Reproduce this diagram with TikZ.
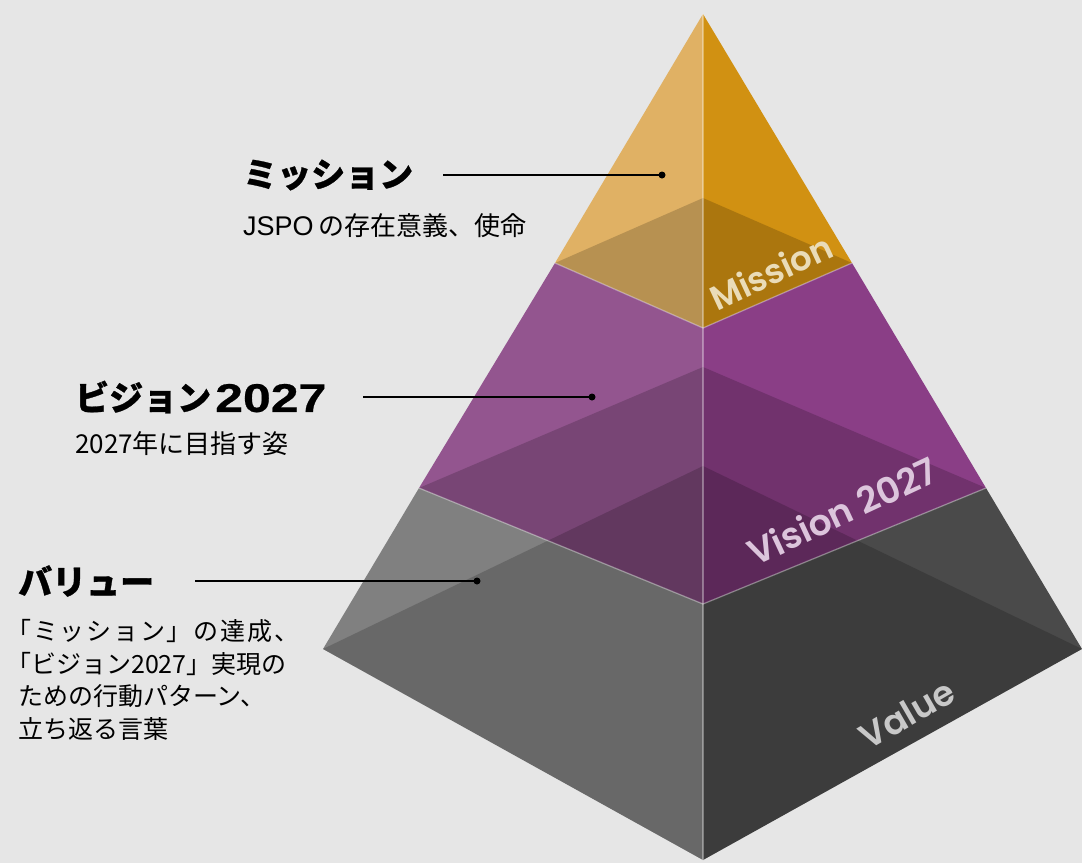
\documentclass[tikz,border=0pt]{standalone}
\usepackage{graphicx}
\usepackage{fontspec}
\newfontfamily\cjk{Noto Sans CJK JP}[BoldFeatures={FakeBold=0.8}]
\newfontfamily\lib{Liberation Sans}[BoldFeatures={FakeBold=0.5}]
\newfontfamily\pop{Poppins}[UprightFont=* SemiBold]
\definecolor{bgc}{HTML}{E6E6E6}
\definecolor{mleft}{HTML}{E0B164}
\definecolor{mright}{HTML}{D19112}
\definecolor{vleft}{HTML}{93558F}
\definecolor{vright}{HTML}{8A3E86}
\definecolor{bleft}{HTML}{808080}
\definecolor{bright}{HTML}{4A4A4A}
\definecolor{mtag}{HTML}{EADCB8}
\definecolor{vtag}{HTML}{DCC5DC}
\definecolor{btag}{HTML}{C8C8C8}
\begin{document}
\begin{tikzpicture}[x=1pt,y=-1pt,
  dark/.style={fill=black,fill opacity=0.18},
  edgeline/.style={draw=white,draw opacity=0.35,line width=1.3pt},
  conn/.style={draw=black,line width=1.4pt},
  dotnode/.style={circle,fill=black,inner sep=0pt,minimum size=7pt},
  head/.style={anchor=west,inner sep=0pt,font=\cjk\bfseries\fontsize{34}{40}\selectfont},
  body/.style={anchor=west,inner sep=0pt,font=\cjk\fontsize{26}{33}\selectfont},
  bodyb/.style={anchor=west,inner sep=0pt,font=\cjk\fontsize{25}{33}\selectfont},
  tag/.style={font=\pop,inner sep=0pt}
]
\fill[bgc] (0,0) rectangle (1082,863);
\useasboundingbox (0,0) rectangle (1082,863);
% corners
\coordinate (A) at (703,14);
\coordinate (M1) at (555,263); \coordinate (M2) at (852,263);
\coordinate (MF) at (703,328); \coordinate (MB) at (703,198);
\coordinate (V1) at (419,488); \coordinate (V2) at (986,488);
\coordinate (VF) at (703,604); \coordinate (VB) at (703,367);
\coordinate (B1) at (323,649); \coordinate (B2) at (1082,649);
\coordinate (BF) at (703,860); \coordinate (BB) at (703,466);
% faces
\fill[mleft] (A) -- (M1) -- (MF) -- cycle;
\fill[mright] (A) -- (M2) -- (MF) -- cycle;
\fill[vleft] (M1) -- (MF) -- (VF) -- (V1) -- cycle;
\fill[vright] (M2) -- (MF) -- (VF) -- (V2) -- cycle;
\fill[bleft] (V1) -- (VF) -- (BF) -- (B1) -- cycle;
\fill[bright] (V2) -- (VF) -- (BF) -- (B2) -- cycle;
% see-through bases
\fill[dark] (M1) -- (MB) -- (M2) -- (MF) -- cycle;
\fill[dark] (V1) -- (VB) -- (V2) -- (VF) -- cycle;
\fill[dark] (B1) -- (BB) -- (B2) -- (BF) -- cycle;
% light front edges
\draw[edgeline] (A) -- (BF);
\draw[edgeline] (M1) -- (MF) -- (M2);
\draw[edgeline] (V1) -- (VF) -- (V2);
% tags
\node[tag,text=mtag,rotate=25,font=\pop\fontsize{34}{34}\selectfont] (mtag) at (771,272) {Mission};
\node[tag,text=vtag,rotate=25,font=\pop\fontsize{36}{36}\selectfont] (vtag) at (842,511) {Vision 2027};
\node[tag,text=btag,rotate=30,font=\pop\fontsize{35}{35}\selectfont] (btag) at (907,714) {Value};
% left texts
\node[head] (mhead) at (243,175) {ミッション};
\node[body] (mbody) at (243,226) {{\lib\fontsize{27}{33}\selectfont JSPO}\hspace{5pt}の存在意義、使命};
\node[head] (vhead) at (75,397) {ビジョン\hspace{4pt}\raisebox{-1.5pt}{\scalebox{1.25}[1]{\lib\bfseries\fontsize{40}{40}\selectfont 2027}}};
\node[body] (vbody) at (75,444) {2027年に目指す姿};
\node[head] (bhead) at (18,581) {バリュー};
\node[bodyb] (bl1) at (6,631) {\hbox to 293pt{「\hfil ミ\hfil ッ\hfil シ\hfil ョ\hfil ン\hfil 」\hfil の\hfil 達\hfil 成\hfil 、}};
\node[bodyb] (bl2) at (6,664) {「ビジョン2027」実現の};
\node[bodyb] (bl3) at (18,696) {ための行動パターン、};
\node[bodyb] (bl4) at (18,729) {立ち返る言葉};
% connectors
\coordinate (ms) at (443,175);
\node[dotnode] (md) at (662,175) {};
\draw[conn] (ms) -- (md.center);
\coordinate (vs) at (363,397);
\node[dotnode] (vd) at (592,397) {};
\draw[conn] (vs) -- (vd.center);
\coordinate (bs) at (195,581);
\node[dotnode] (bd) at (477,581) {};
\draw[conn] (bs) -- (bd.center);
\end{tikzpicture}
\end{document}
